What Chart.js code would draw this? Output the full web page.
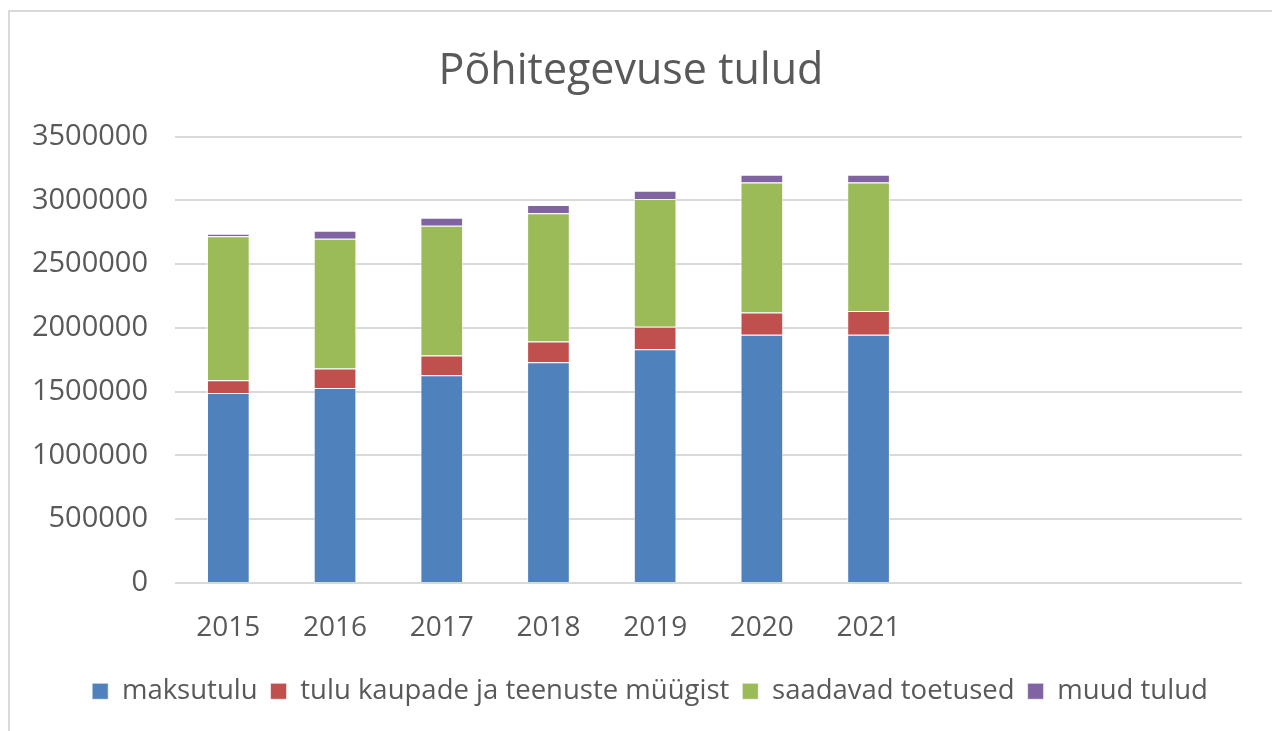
<!DOCTYPE html>
<html lang="et">
<head>
<meta charset="utf-8">
<title>Põhitegevuse tulud</title>
<script src="https://cdn.jsdelivr.net/npm/chart.js@4/dist/chart.umd.min.js"></script>
<style>
    html, body {
        margin: 0;
        padding: 0;
        background: #ffffff;
    }
    #raam {
        position: absolute;
        left: 8px;
        top: 10px;
        width: 1280px;
        height: 740px;
        border: 2px solid #d9d9d9;
        box-sizing: border-box;
    }
    #graafik-kast {
        position: absolute;
        left: 0;
        top: 0;
        width: 1272px;
        height: 731px;
    }
</style>
</head>
<body>
<div id="raam"></div>
<div id="graafik-kast">
    <canvas id="tuludChart"></canvas>
</div>
<script>
/* ==================
    ANDMED
================== */

const aastad = ["2015", "2016", "2017", "2018", "2019", "2020", "2021", "", "", ""];

const maksutulu = [1490000, 1528000, 1629000, 1730000, 1832000, 1946000, 1946000];
const kaubadTeenused = [100000, 153000, 154000, 164000, 177000, 174000, 187000];
const toetused = [1128000, 1018000, 1017000, 1005000, 1002000, 1021000, 1008000];
const muudTulud = [21000, 63000, 63000, 65000, 65000, 60000, 60000];

const yTelgMax = 3500000;
const yTelgSamm = 500000;

/* ==================
    GRAAFIK
================== */

const tekstiVarv = "#595959";
const font = "'Open Sans', 'Liberation Sans', sans-serif";

function seeria(nimi, andmed, varv) {
    return {
        label: nimi,
        data: andmed,
        backgroundColor: varv,
        borderColor: "rgba(255, 255, 255, 0.6)",
        borderWidth: 1,
        categoryPercentage: 1,
        barPercentage: 0.4,
    };
}

// legend on originaalis veidi paremal
const legendiNihe = {
    id: "legendiNihe",
    afterLayout(chart) {
        const legend = chart.legend;
        if (!legend) {
            return;
        }
        legend.left += 19;
        legend.right += 19;
        legend.adjustHitBoxes();
    },
};

function joonistaGraafik() {
    const canvas = document.getElementById("tuludChart");
    if (!canvas || typeof Chart === "undefined") {
        return;
    }

    new Chart(canvas.getContext("2d"), {
        type: "bar",
        data: {
            labels: aastad,
            datasets: [
                seeria("maksutulu", maksutulu, "#4f81bd"),
                seeria("tulu kaupade ja teenuste müügist", kaubadTeenused, "#c0504d"),
                seeria("saadavad toetused", toetused, "#9bbb59"),
                seeria("muud tulud", muudTulud, "#8064a2"),
            ],
        },
        plugins: [legendiNihe],
        options: {
            responsive: true,
            maintainAspectRatio: false,
            animation: false,
            layout: {
                padding: { left: 20, right: 30, top: 46, bottom: 16 },
            },
            plugins: {
                title: {
                    display: true,
                    text: "Põhitegevuse tulud",
                    color: tekstiVarv,
                    font: { family: font, size: 43, weight: "normal" },
                    padding: { top: 0, bottom: 39 },
                },
                legend: {
                    position: "bottom",
                    labels: {
                        color: tekstiVarv,
                        font: { family: font, size: 27.5 },
                        boxWidth: 16,
                        boxHeight: 16,
                        padding: 13,
                    },
                },
                tooltip: { enabled: false },
            },
            scales: {
                x: {
                    stacked: true,
                    grid: { display: false },
                    border: { display: false },
                    ticks: {
                        color: tekstiVarv,
                        font: { family: font, size: 28 },
                        padding: 20,
                        maxRotation: 0,
                        autoSkip: false,
                    },
                },
                y: {
                    stacked: true,
                    min: 0,
                    max: yTelgMax,
                    grid: { color: "#d9d9d9", lineWidth: 2, drawTicks: false },
                    border: { display: false },
                    ticks: {
                        stepSize: yTelgSamm,
                        color: tekstiVarv,
                        font: { family: font, size: 29 },
                        padding: 27,
                        callback: (vaartus) => String(vaartus),
                    },
                    afterFit: (scale) => {
                        scale.width = 155;
                    },
                },
            },
        },
    });
}

if (document.readyState === "loading") {
    document.addEventListener("DOMContentLoaded", joonistaGraafik);
} else {
    joonistaGraafik();
}
</script>
</body>
</html>
